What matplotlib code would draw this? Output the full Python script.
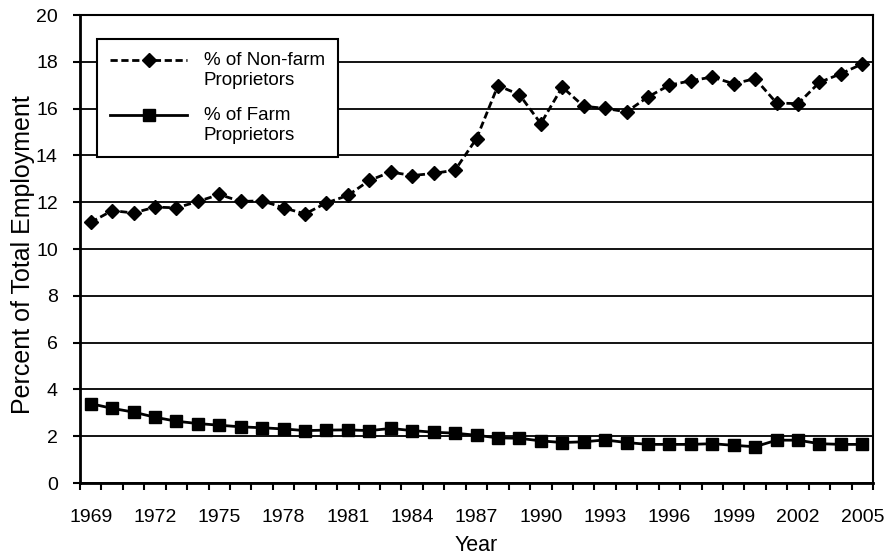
import numpy as np
import matplotlib.pyplot as plt
from matplotlib.legend_handler import HandlerLine2D

plt.rcParams['font.family'] = ['Liberation Sans', 'DejaVu Sans']

years = list(range(1969, 2006))
nonfarm = [11.14, 11.64, 11.54, 11.79, 11.76, 12.03, 12.33, 12.03, 12.06, 11.76,
           11.50, 11.97, 12.29, 12.93, 13.29, 13.14, 13.23, 13.37, 14.72, 16.98,
           16.60, 15.36, 16.92, 16.10, 16.01, 15.86, 16.50, 17.00, 17.19, 17.35,
           17.06, 17.28, 16.24, 16.21, 17.12, 17.49, 17.91]
farm = [3.39, 3.19, 3.03, 2.81, 2.64, 2.54, 2.47, 2.40, 2.36, 2.31,
        2.24, 2.26, 2.27, 2.24, 2.33, 2.24, 2.17, 2.13, 2.04, 1.93,
        1.91, 1.80, 1.73, 1.76, 1.84, 1.73, 1.65, 1.65, 1.65, 1.68,
        1.61, 1.55, 1.83, 1.83, 1.68, 1.65, 1.65]


# legend handle sits on the first line of a two line label, as in Excel
class FirstLineHandler(HandlerLine2D):
    def create_artists(self, legend, orig_handle, xdescent, ydescent,
                       width, height, fontsize, trans):
        return super().create_artists(legend, orig_handle, xdescent, ydescent,
                                      width, height + 1.15 * fontsize,
                                      fontsize, trans)


x = np.arange(len(years))

fig = plt.figure(figsize=(8.96, 5.6), dpi=100)
ax = fig.add_axes([80/896, 1-483/560, 793/896, 468/560])

l1, = ax.plot(x, nonfarm, color='black', linestyle=(0, (2.6, 1.3)), linewidth=2,
              marker='D', markersize=7, label='% of Non-farm\nProprietors', zorder=3)
l2, = ax.plot(x, farm, color='black', linestyle='-', linewidth=2,
              marker='s', markersize=9, label='% of Farm\nProprietors', zorder=3)

ax.set_xlim(-0.5, len(years) - 0.5)
ax.set_ylim(0, 20)
ax.set_yticks(np.arange(0, 21, 2))
ax.yaxis.grid(True, color='black', linewidth=1.3)
ax.set_axisbelow(True)

# category boundaries get the tick marks, labels sit on every third year
ax.set_xticks(np.arange(-0.5, len(years), 1.0))
ax.set_xticklabels([])
ax.set_xticks(x[::3], minor=True)
ax.set_xticklabels([str(y) for y in years[::3]], minor=True)
ax.tick_params(axis='x', which='major', direction='out', length=5, width=1.5)
ax.tick_params(axis='x', which='minor', length=0, pad=19, labelsize=14)
ax.tick_params(axis='y', direction='out', length=5, width=1.5, labelsize=14, pad=11)

for s in ax.spines.values():
    s.set_linewidth(1.5)
ax.spines['left'].set_linewidth(2)
ax.spines['bottom'].set_linewidth(2)

ax.set_xlabel('Year', fontsize=15.5)
ax.xaxis.set_label_coords(0.5, -(535 - 483) / 468)
ax.set_ylabel('Percent of Total Employment', fontsize=18)
ax.yaxis.set_label_coords(-45 / 793, (483 - 255) / 468)

leg = ax.legend(handles=[l1, l2], loc='upper left',
                bbox_to_anchor=((97 - 80) / 793, (483 - 39) / 468),
                borderaxespad=0, fontsize=13.5, handlelength=4.1,
                frameon=True, fancybox=False, borderpad=0.7,
                labelspacing=1.0, handletextpad=0.9,
                handler_map={l1: FirstLineHandler(), l2: FirstLineHandler()})
leg.get_frame().set_edgecolor('black')
leg.get_frame().set_linewidth(1.5)
leg.get_frame().set_alpha(1)

fig.savefig('out.png', dpi=100)
